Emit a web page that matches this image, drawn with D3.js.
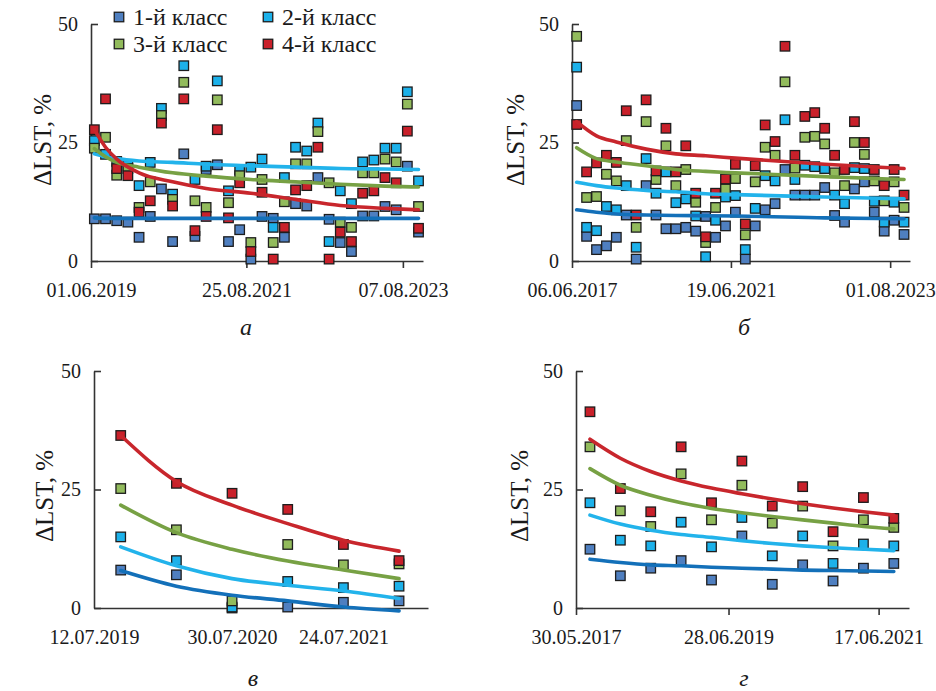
<!DOCTYPE html>
<html><head><meta charset="utf-8">
<script src="https://cdn.jsdelivr.net/npm/d3@7"></script>
<style>
body{margin:0;background:#fff}
svg{display:block}
svg text{font-family:'Liberation Serif','DejaVu Serif',serif !important;fill:#1a1a1a}
</style>
</head><body><svg id="c" width="936" height="691" font-family="Liberation Serif"></svg>
<script>
// ---------- DATA ----------
const classNames = ['1-й класс','2-й класс','3-й класс','4-й класс'];
const yTicks = [0, 25, 50];

// panel а (observation index 0..29)
const aTickPos = [-0.3, 13.6, 27.6];
const aTickLabels = ['01.06.2019','25.08.2021','07.08.2023'];
const a1 = [8.9,8.9,8.5,8.2,5.0,9.4,15.2,4.1,22.6,5.2,19.3,20.3,4.1,6.6,0.4,9.4,9.0,5.0,12.1,11.6,17.6,8.8,3.9,2.0,9.5,9.5,11.5,10.8,20.0,6.1];
const a2 = [25.4,22.5,21.0,20.2,15.9,20.8,32.2,14.1,41.2,17.2,20.0,38.0,14.8,19.2,19.8,21.5,7.1,17.6,24.0,23.2,29.1,4.1,14.8,12.1,20.9,21.3,23.8,23.8,35.7,16.9];
const a3 = [23.8,26.1,18.1,19.5,11.3,16.7,30.7,13.0,37.7,12.7,11.3,34.0,12.3,18.0,3.9,17.2,3.9,12.5,20.5,20.5,27.3,16.5,8.2,7.1,18.6,18.6,21.5,20.9,33.1,11.5];
const a4 = [27.7,34.2,19.5,18.0,10.3,12.7,29.1,11.6,34.2,6.4,9.4,27.7,9.1,16.5,2.0,14.5,0.4,7.1,15.0,15.9,24.0,0.4,6.1,4.1,14.3,14.8,17.6,16.5,27.4,6.9];
const aTrendX = [0,1,2,4,7,10,14,18,22,26,29];
const aTrend1 = [9.1,9.0,9.0,9.0,9.0,9.0,9.0,9.0,9.0,9.0,9.0];
const aTrend2 = [22.6,22.0,21.6,21.1,20.8,20.4,20.1,19.8,19.5,19.4,19.3];
const aTrend3 = [23.7,22.0,20.8,19.8,18.6,17.9,17.2,16.7,16.2,15.8,15.6];
const aTrend4 = [27.7,24.0,21.5,18.6,16.7,15.3,14.3,13.0,11.7,11.1,10.8];

// panel б (index 0..33)
const bTickPos = [-0.47, 15.55, 31.6];
const bTickLabels = ['06.06.2017','19.06.2021','01.08.2023'];
const b1 = [32.8,5.2,2.4,3.2,5.0,9.7,0.4,15.9,9.7,6.8,6.8,7.1,6.3,9.4,5.0,7.4,10.3,0.4,7.4,10.8,12.1,19.3,13.9,13.9,13.9,15.5,9.6,8.2,15.2,16.7,10.3,6.3,8.6,5.6];
const b2 = [40.9,7.1,6.4,11.5,10.8,15.9,2.9,21.6,14.3,18.8,12.3,13.1,9.5,0.9,8.6,13.5,13.8,2.4,11.1,18.0,16.9,29.8,17.2,20.2,19.9,19.5,13.9,12.1,19.7,19.5,12.6,8.2,12.4,8.2];
const b3 = [47.4,13.4,13.6,18.3,16.9,25.4,7.1,29.4,17.2,24.3,15.9,19.3,12.4,3.9,11.3,15.2,17.4,5.5,16.7,24.0,22.3,37.8,19.6,26.1,26.3,24.7,18.6,15.9,25.0,22.5,16.9,12.7,16.7,11.3];
const b4 = [28.8,18.8,20.7,22.3,20.8,31.7,9.7,34.0,19.0,28.0,18.8,24.3,14.3,5.1,14.3,17.3,20.4,7.8,20.1,28.7,25.2,45.3,22.3,30.5,31.3,28.0,22.3,19.3,29.4,25.0,19.3,15.9,19.3,13.9];
const bTrendX = [0,2,4,7,10,13,16,25,33];
const bTrend1 = [10.8,10.3,9.9,9.7,9.6,9.55,9.5,9.1,8.9];
const bTrend2 = [16.6,15.9,15.4,14.9,14.6,14.2,14.0,13.5,13.1];
const bTrend3 = [23.9,21.6,20.9,20.1,19.3,18.9,18.6,17.8,17.2];
const bTrend4 = [29.4,26.4,25.1,23.6,22.6,22.2,21.7,20.4,19.5];

// panel в (index 0..5)
const vTickPos = [-0.48, 2, 4];
const vTickLabels = ['12.07.2019','30.07.2020','24.07.2021'];
const v1 = [8.0,7.0,0.0,0.2,1.2,1.5];
const v2 = [15.0,10.0,0.2,5.6,4.3,4.6];
const v3 = [25.2,16.5,1.5,13.4,9.1,9.3];
const v4 = [36.4,26.3,24.2,20.8,13.4,10.0];
const vTrendX = [0,1,2,3,4,5];
const vTrend1 = [7.9,4.6,2.7,1.5,0.2,-0.6];
const vTrend2 = [12.9,8.9,6.2,4.8,3.6,2.0];
const vTrend3 = [21.7,15.9,12.4,9.9,8.0,6.2];
const vTrend4 = [36.4,26.7,21.7,17.8,14.3,12.0];

// panel г (index 0..10)
const gTickPos = [-0.46, 4.56, 9.5];
const gTickLabels = ['30.05.2017','28.06.2019','17.06.2021'];
const g1 = [12.4,6.8,8.4,10.0,5.9,15.2,5.0,9.1,5.7,8.4,9.4];
const g2 = [22.2,14.3,13.1,18.1,12.9,19.1,11.0,15.2,9.4,13.5,13.1];
const g3 = [34.0,20.5,17.2,28.3,18.6,25.9,17.9,21.5,13.1,18.6,17.0];
const g4 = [41.4,25.2,20.3,34.0,22.2,31.0,21.5,25.6,16.1,23.3,18.9];
const gTrendX = [0,1,2,3,4,5,6,7,8,9,10];
const gTrend1 = [10.3,9.6,9.1,8.9,8.6,8.4,8.2,8.0,7.9,7.8,7.7];
const gTrend2 = [19.6,17.7,16.4,15.5,14.9,14.2,13.6,13.1,12.7,12.4,12.1];
const gTrend3 = [29.4,25.9,23.8,22.2,21.0,20.1,19.3,18.6,17.9,17.2,16.7];
const gTrend4 = [35.6,31.6,28.8,26.8,25.3,24.1,23.0,22.0,21.1,20.3,19.6];

// ---------- STYLE / LAYOUT ----------
const FONT = "'Liberation Serif','DejaVu Serif',serif";
const markerFill = ['#4f7fc0','#1cb1ea','#92bb5c','#c9202a'];
const lineColor  = ['#1370b9','#22b3eb','#77a144','#c8262c'];

const panels = [
  {letter:'а', x0:91,  x1:423, y0:261, y1:24,  dom:[-0.3,29.4],  tp:aTickPos, tl:aTickLabels, tick:7,
   pts:[a1,a2,a3,a4], tx:aTrendX, tr:[aTrend1,aTrend2,aTrend3,aTrend4], lx:42,  ly:140, px:246, py:327},
  {letter:'б', x0:572, x1:910, y0:261, y1:24,  dom:[-0.47,33.6], tp:bTickPos, tl:bTickLabels, tick:7,
   pts:[b1,b2,b3,b4], tx:bTrendX, tr:[bTrend1,bTrend2,bTrend3,bTrend4], lx:515, ly:140, px:744, py:327},
  {letter:'в', x0:94,  x1:428, y0:608, y1:371, dom:[-0.48,5.52], tp:vTickPos, tl:vTickLabels, tick:0,
   pts:[v1,v2,v3,v4], tx:vTrendX, tr:[vTrend1,vTrend2,vTrend3,vTrend4], lx:44,  ly:496, px:253, py:678},
  {letter:'г', x0:576, x1:909, y0:608, y1:371, dom:[-0.46,10.5], tp:gTickPos, tl:gTickLabels, tick:7,
   pts:[g1,g2,g3,g4], tx:gTrendX, tr:[gTrend1,gTrend2,gTrend3,gTrend4], lx:519, ly:496, px:744, py:678}
];

const svg = d3.select('#c');
const MS = 9.5; // marker size

panels.forEach(p => {
  const x = d3.scaleLinear().domain(p.dom).range([p.x0, p.x1]);
  const y = d3.scaleLinear().domain([0, 50]).range([p.y0, p.y1]);
  const g = svg.append('g');

  const ya = d3.axisLeft(y).tickValues(yTicks).tickSizeInner(-7).tickSizeOuter(0).tickPadding(13);
  const yg = g.append('g').attr('transform', `translate(${p.x0},0)`).call(ya);
  const xa = d3.axisBottom(x).tickValues(p.tp).tickFormat((d,i)=>p.tl[i])
      .tickSizeInner(p.tick).tickSizeOuter(0).tickPadding(22 - p.tick);
  const xg = g.append('g').attr('transform', `translate(0,${p.y0})`).call(xa);
  [yg, xg].forEach(a => {
    a.attr('font-family', FONT).attr('font-size', 20);
    a.selectAll('path,line').attr('stroke','#333').attr('stroke-width',1.6);
    a.selectAll('text').attr('font-size',20).attr('fill','#1a1a1a').attr('font-family', FONT);
  });

  p.pts.forEach((arr, k) => {
    g.append('g').selectAll('rect').data(arr).join('rect')
      .attr('x', (d,i) => x(i) - MS/2).attr('y', d => y(d) - MS/2)
      .attr('width', MS).attr('height', MS)
      .attr('fill', markerFill[k]).attr('stroke', '#1d1d1d').attr('stroke-width', 1.3);
  });

  const line = d3.line().x((d,i) => x(p.tx[i])).y(d => y(d)).curve(d3.curveMonotoneX);
  p.tr.forEach((arr, k) => {
    g.append('path').datum(arr).attr('d', line)
      .attr('fill','none').attr('stroke', lineColor[k]).attr('stroke-width', 3.6)
      .attr('stroke-linecap','round');
  });

  g.append('text').attr('transform', `translate(${p.lx},${p.ly}) rotate(-90)`)
    .attr('text-anchor','middle').attr('dominant-baseline','central')
    .attr('font-family', FONT).attr('font-size',25).text('ΔLST, %');

  g.append('text').attr('x', p.px).attr('y', p.py).attr('text-anchor','middle')
    .attr('dominant-baseline','central').attr('font-size',24).attr('font-style','italic')
    .attr('font-family', FONT).text(p.letter);
});

const legX = [119, 268], legY = [17, 44];
const leg = svg.append('g');
classNames.forEach((name, k) => {
  const cx = legX[k % 2], cy = legY[Math.floor(k / 2)];
  leg.append('rect').attr('x', cx - 4.75).attr('y', cy - 4.75).attr('width', 9.5).attr('height', 9.5)
    .attr('fill', markerFill[k]).attr('stroke', '#1d1d1d').attr('stroke-width', 1.3);
  leg.append('text').attr('x', cx + 14).attr('y', cy).attr('dominant-baseline','central')
    .attr('font-family', FONT).attr('font-size', 24).text(name);
});
</script></body></html>
